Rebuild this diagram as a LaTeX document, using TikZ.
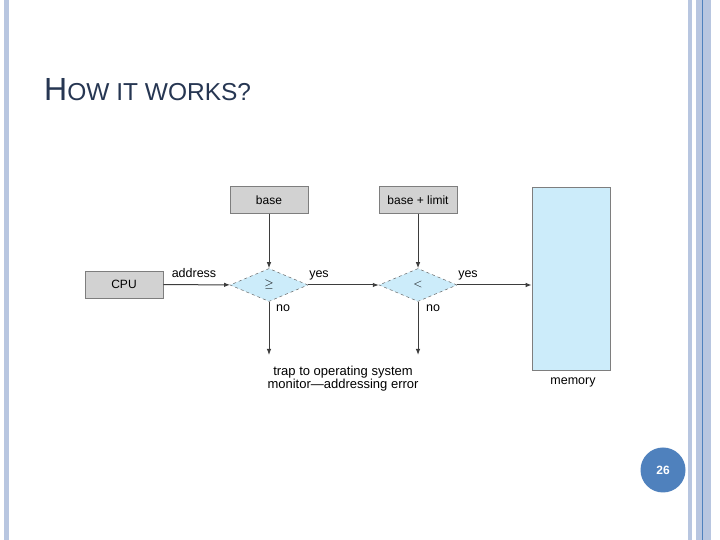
\documentclass[tikz,border=0pt]{standalone}
\usepackage{fontspec}
\setmainfont{Liberation Sans}
\usetikzlibrary{shapes.geometric,arrows.meta}
\begin{document}
\begin{tikzpicture}[x=1pt,y=1pt,
  box/.style={draw=drawColor!60,line width=0.6pt,fill=boxColor,minimum width=78pt,minimum height=27pt,inner sep=0pt,font=\fontsize{12}{12}\selectfont},
  test/.style={diamond,aspect=2.4,draw=drawColor!70,dashed,line width=0.5pt,fill=memColor,minimum width=78pt,minimum height=33pt,inner sep=0pt,font=\fontsize{12}{12}\selectfont},
  lbl/.style={inner sep=0pt,anchor=base,font=\fontsize{12.5}{13}\selectfont},
  flow/.style={-{Latex[length=6pt,width=4.5pt]},line width=1pt,draw=drawColor!90}]
\definecolor{fillColor}{RGB}{255,255,255}
\definecolor{drawColor}{RGB}{40,40,40}
\definecolor{boxColor}{RGB}{210,210,210}
\definecolor{memColor}{RGB}{204,236,250}
\definecolor{stripeColor}{RGB}{184,198,224}
\definecolor{titleColor}{RGB}{38,54,82}
\definecolor{pageColor}{RGB}{79,129,189}
\path[use as bounding box,fill=fillColor] (0,0) rectangle (720,540);

% slide frame
\fill[stripeColor] (4,0) rectangle (9,540);
\fill[stripeColor] (688,0) rectangle (692,540);
\fill[stripeColor] (696,0) rectangle (711,540);
\draw[pageColor,line width=0.8pt] (702,0) -- (702,540);

\node[text=titleColor,anchor=base west,inner sep=0pt] (title) at (44,439)
  {\fontsize{32}{32}\selectfont H\fontsize{24.5}{24.5}\selectfont OW IT WORKS?};

% boxes and tests
\node[box] (cpu) at (124,255.5) {CPU};
\node[box] (base) at (269,340) {base};
\node[box] (limit) at (418,340) {base + limit};
\node[test] (ge) at (269,255) {$\geq$};
\node[test] (lt) at (418,255) {$<$};
\node[draw=drawColor!60,line width=0.6pt,fill=memColor,minimum width=78pt,minimum height=183pt,inner sep=0pt] (mem) at (571,261.5) {};
\coordinate (trapA) at (269,185);
\coordinate (trapB) at (418,185);

\draw[flow] (cpu) -- (ge);
\draw[flow] (ge) -- (lt);
\draw[flow] (lt) -- (lt -| mem.west);
\draw[flow] (base) -- (ge);
\draw[flow] (limit) -- (lt);
\draw[flow] (ge) -- (trapA);
\draw[flow] (lt) -- (trapB);

\node[lbl] (addr) at (194,262) {address};
\node[lbl] (yesA) at (319,262) {yes};
\node[lbl] (yesB) at (468,262) {yes};
\node[lbl] (noA) at (283,228) {no};
\node[lbl] (noB) at (433,228) {no};
\node[lbl,font=\fontsize{13}{13}\selectfont] (trap) at (343,164) {trap to operating system};
\node[lbl,font=\fontsize{13}{13}\selectfont] (trap2) at (343,151) {monitor---addressing error};
\node[lbl] (memlbl) at (573,155) {memory};

% page number
\node[circle,fill=pageColor,minimum size=45pt,inner sep=0pt,text=white,font=\bfseries\fontsize{12}{12}\selectfont] (page) at (663,70) {26};
\end{tikzpicture}
\end{document}
